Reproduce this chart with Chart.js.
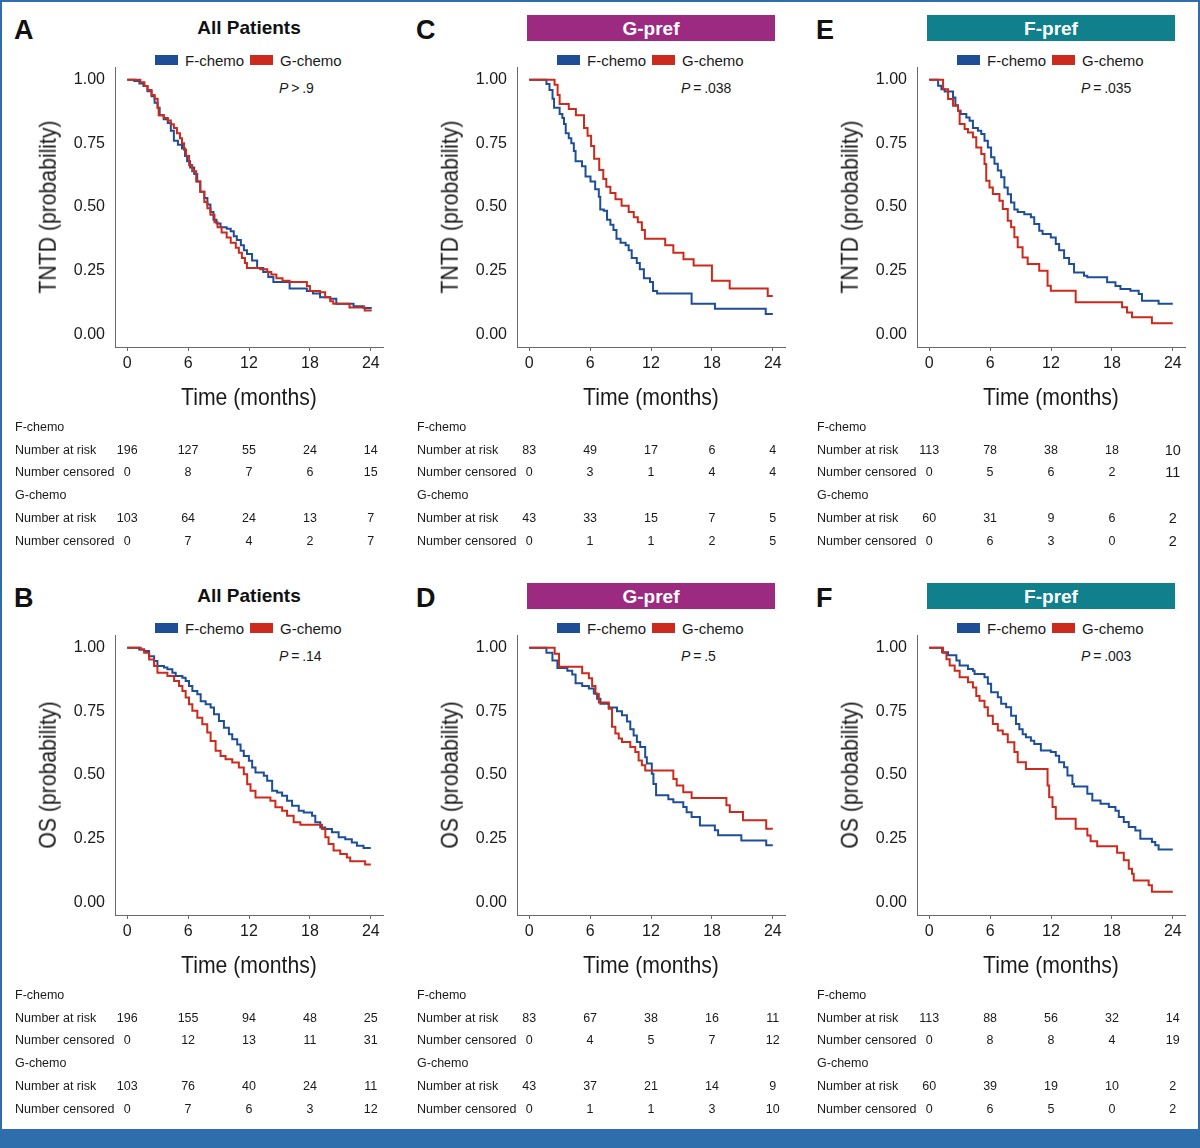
<!DOCTYPE html>
<html>
<head>
<meta charset="utf-8">
<script src="https://cdn.jsdelivr.net/npm/chart.js@4.4.1/dist/chart.umd.min.js"></script>
<style>
html,body{margin:0;padding:0;background:#fff;}
#page{position:relative;width:1200px;height:1148px;overflow:hidden;background:#fff;font-family:"Liberation Sans",Arial,Helvetica,sans-serif;color:#1a1a1a;}
.frame{position:absolute;background:#2f6eac;}
.panel{position:absolute;width:400px;height:568px;}
.panel canvas{position:absolute;left:0;top:60px;}
.t{position:absolute;white-space:nowrap;line-height:1;}
.band{position:absolute;}
.key{position:absolute;width:23px;height:10px;}
</style>
</head>
<body>
<div id="page">
  <div class="frame" style="left:0;top:0;width:1200px;height:2px;"></div>
  <div class="frame" style="left:0;top:0;width:2px;height:1148px;"></div>
  <div class="frame" style="left:1198px;top:0;width:2px;height:1148px;"></div>
  <div class="frame" style="left:0;top:1129px;width:1200px;height:19px;"></div>
</div>
<script>
// ---------- axis ticks & labels ----------
const X_TICKS = [0, 6, 12, 18, 24];
const X_TICK_LABELS = ['0', '6', '12', '18', '24'];
const Y_TICKS = [0, 0.25, 0.5, 0.75, 1];
const Y_TICK_LABELS = ['0.00', '0.25', '0.50', '0.75', '1.00'];
const X_TITLE = 'Time (months)';
const Y_TITLES = ['TNTD (probability)', 'OS (probability)'];
const SERIES_NAMES = ['F-chemo', 'G-chemo'];
const TABLE_ROW_LABELS = ['Number at risk', 'Number censored'];
const HEADERS = ['All Patients', 'G-pref', 'F-pref'];
const P_TEXT = { A: '> .9', B: '= .14', C: '= .038', D: '= .5', E: '= .035', F: '= .003' };

// ---------- Kaplan-Meier curves [months, probability] ----------
// A: TNTD, all patients
const A_F = [[0,1],[0.7,0.995],[1.2,0.985],[1.6,0.975],[2.0,0.955],[2.4,0.935],[2.7,0.91],[3.0,0.89],[3.2,0.86],[3.6,0.845],[4.0,0.83],[4.3,0.80],[4.6,0.76],[5.0,0.745],[5.4,0.73],[5.7,0.70],[5.9,0.68],[6.2,0.655],[6.6,0.63],[6.9,0.60],[7.2,0.56],[7.6,0.535],[7.9,0.51],[8.2,0.48],[8.5,0.45],[8.8,0.435],[9.2,0.42],[9.8,0.415],[10.2,0.405],[10.5,0.385],[10.8,0.37],[11.2,0.35],[11.5,0.33],[11.8,0.315],[12.3,0.29],[12.8,0.26],[13.4,0.245],[13.9,0.225],[14.4,0.205],[16.0,0.18],[17.7,0.17],[18.3,0.16],[19.0,0.145],[20.0,0.14],[20.6,0.12],[22.3,0.11],[23.3,0.103],[24,0.10]];
const A_G = [[0,1],[1.3,0.99],[1.7,0.975],[2.0,0.96],[2.4,0.94],[2.7,0.925],[3.0,0.89],[3.1,0.86],[3.6,0.85],[4.0,0.84],[4.3,0.825],[4.6,0.81],[4.9,0.79],[5.2,0.77],[5.4,0.75],[5.6,0.725],[5.8,0.70],[6.1,0.665],[6.4,0.64],[6.8,0.60],[7.2,0.56],[7.6,0.52],[7.9,0.495],[8.2,0.47],[8.6,0.44],[8.9,0.42],[9.3,0.40],[9.8,0.38],[10.2,0.36],[10.7,0.34],[11.0,0.32],[11.3,0.30],[11.6,0.28],[11.8,0.26],[13.1,0.255],[13.8,0.245],[14.2,0.235],[14.7,0.22],[15.3,0.21],[16.0,0.205],[17.7,0.19],[18.0,0.17],[19.0,0.165],[19.5,0.145],[20.0,0.13],[20.3,0.12],[21.9,0.105],[23.4,0.093],[24,0.09]];
// B: OS, all patients
const B_F = [[0,1],[1.18,0.993],[1.67,0.987],[2.16,0.967],[2.65,0.948],[2.98,0.928],[3.63,0.922],[3.96,0.915],[4.45,0.902],[4.78,0.889],[5.44,0.882],[5.76,0.869],[6.09,0.85],[6.42,0.83],[6.91,0.817],[7.24,0.79],[7.73,0.778],[8.22,0.765],[8.55,0.739],[9.04,0.712],[9.53,0.686],[10.02,0.66],[10.35,0.64],[10.84,0.62],[11.17,0.595],[11.49,0.575],[11.99,0.556],[12.31,0.529],[12.64,0.51],[13.46,0.497],[13.79,0.477],[14.28,0.438],[14.77,0.431],[15.26,0.418],[15.75,0.399],[16.24,0.379],[16.9,0.36],[17.39,0.353],[18.21,0.34],[18.53,0.314],[19.02,0.294],[19.52,0.288],[20.17,0.275],[20.83,0.255],[21.48,0.248],[22.13,0.235],[22.63,0.222],[23.28,0.213],[24,0.213]];
const B_G = [[0,1],[1.34,0.993],[1.67,0.98],[2.16,0.954],[2.65,0.928],[2.98,0.902],[3.96,0.889],[4.62,0.869],[5.11,0.85],[5.44,0.83],[5.76,0.804],[6.09,0.778],[6.42,0.752],[6.91,0.725],[7.4,0.699],[7.89,0.667],[8.22,0.634],[8.71,0.595],[9.2,0.575],[9.69,0.562],[10.35,0.549],[11.0,0.529],[11.49,0.503],[11.82,0.464],[12.15,0.438],[12.64,0.412],[14.11,0.399],[14.6,0.373],[15.26,0.36],[15.75,0.34],[16.4,0.314],[17.06,0.305],[19.19,0.288],[19.52,0.255],[19.84,0.229],[20.33,0.203],[20.99,0.19],[21.64,0.176],[21.97,0.161],[23.44,0.148],[24,0.148]];
// C: TNTD, G-pref
const C_F = [[0,1],[1.7,0.983],[2.0,0.96],[2.3,0.925],[2.45,0.89],[3.0,0.865],[3.27,0.85],[3.43,0.826],[3.6,0.79],[3.9,0.77],[4.15,0.75],[4.4,0.72],[4.57,0.68],[5.2,0.66],[5.55,0.62],[6.04,0.60],[6.5,0.57],[6.86,0.54],[7.0,0.49],[7.35,0.485],[7.67,0.45],[8.0,0.43],[8.3,0.41],[8.6,0.375],[9.0,0.36],[9.5,0.35],[9.8,0.33],[10.1,0.30],[10.6,0.28],[10.9,0.255],[11.3,0.22],[11.9,0.205],[12.2,0.17],[12.6,0.16],[16.0,0.12],[18.3,0.10],[23.3,0.08],[24,0.08]];
const C_G = [[0,1],[2.5,0.98],[2.8,0.94],[3.0,0.905],[3.9,0.885],[4.6,0.86],[5.4,0.81],[5.75,0.78],[6.1,0.74],[6.4,0.69],[6.9,0.645],[7.3,0.61],[7.6,0.58],[8.0,0.555],[8.5,0.53],[9.1,0.505],[9.8,0.48],[10.3,0.46],[10.7,0.44],[11.1,0.41],[11.4,0.375],[13.4,0.35],[14.2,0.32],[15.2,0.295],[16.2,0.27],[18.0,0.21],[19.75,0.18],[23.5,0.15],[24,0.15]];
// D: OS, G-pref
const D_F = [[0,1],[1.7,0.98],[2.29,0.95],[2.78,0.92],[3.76,0.91],[4.24,0.895],[4.57,0.86],[5.22,0.85],[5.88,0.84],[6.37,0.82],[6.69,0.80],[7.02,0.78],[7.84,0.765],[8.65,0.75],[9.14,0.735],[9.63,0.71],[9.96,0.68],[10.29,0.655],[10.61,0.63],[10.94,0.61],[11.43,0.57],[11.59,0.545],[12.08,0.505],[12.24,0.465],[12.5,0.42],[13.71,0.405],[14.2,0.393],[15.18,0.374],[15.51,0.354],[16.0,0.335],[16.82,0.302],[18.29,0.283],[18.61,0.263],[20.9,0.243],[23.35,0.224],[24,0.224]];
const D_G = [[0,1],[2.51,0.976],[2.94,0.925],[5.22,0.90],[5.88,0.88],[6.2,0.85],[6.53,0.818],[6.86,0.785],[7.84,0.76],[8.16,0.69],[8.49,0.663],[8.82,0.643],[9.14,0.63],[9.96,0.61],[10.45,0.59],[10.78,0.557],[11.1,0.538],[11.43,0.518],[14.2,0.484],[14.53,0.459],[15.18,0.432],[16.0,0.41],[19.43,0.381],[19.76,0.355],[21.06,0.322],[23.35,0.289],[24,0.289]];
// E: TNTD, F-pref
const E_F = [[0,1],[0.88,0.976],[1.2,0.963],[1.53,0.954],[2.35,0.93],[2.58,0.90],[2.84,0.878],[3.1,0.865],[3.66,0.852],[3.98,0.839],[4.31,0.81],[4.8,0.80],[5.13,0.787],[5.45,0.76],[5.78,0.734],[6.1,0.695],[6.43,0.67],[6.76,0.643],[7.09,0.617],[7.41,0.577],[7.74,0.55],[8.06,0.518],[8.39,0.49],[8.72,0.48],[9.37,0.472],[10.02,0.46],[10.35,0.433],[10.84,0.407],[11.17,0.394],[11.98,0.38],[12.47,0.355],[12.8,0.33],[13.29,0.30],[13.78,0.276],[14.27,0.243],[15.25,0.23],[15.58,0.224],[17.53,0.204],[18.35,0.19],[18.84,0.178],[19.82,0.171],[20.64,0.158],[20.96,0.132],[22.6,0.12],[24,0.12]];
const E_G = [[0,1],[1.37,0.963],[1.86,0.924],[2.35,0.898],[2.84,0.878],[3.0,0.826],[3.49,0.806],[3.82,0.793],[4.31,0.774],[4.64,0.734],[5.13,0.708],[5.45,0.669],[5.62,0.603],[5.94,0.577],[6.27,0.551],[6.92,0.525],[7.25,0.492],[7.74,0.446],[8.07,0.42],[8.39,0.381],[8.72,0.342],[9.2,0.302],[9.7,0.276],[10.84,0.25],[11.66,0.191],[11.98,0.171],[14.43,0.126],[19.0,0.106],[19.49,0.086],[19.98,0.067],[21.94,0.043],[24,0.043]];
// F: OS, F-pref
const F_F = [[0,1],[1.27,0.982],[1.86,0.97],[2.68,0.95],[3.0,0.93],[3.82,0.916],[4.31,0.91],[4.47,0.897],[5.45,0.884],[5.78,0.858],[6.1,0.825],[6.76,0.805],[7.09,0.78],[7.58,0.766],[8.07,0.733],[8.55,0.70],[8.88,0.68],[9.21,0.66],[9.53,0.648],[10.02,0.635],[10.35,0.622],[11.0,0.596],[11.98,0.59],[12.47,0.576],[12.8,0.55],[13.29,0.53],[13.62,0.498],[14.11,0.465],[14.27,0.455],[15.58,0.426],[16.07,0.40],[16.88,0.387],[17.7,0.374],[18.35,0.36],[18.68,0.335],[19.17,0.315],[19.66,0.296],[20.31,0.282],[20.8,0.25],[21.94,0.237],[22.27,0.224],[22.6,0.207],[24,0.207]];
const F_G = [[0,1],[1.37,0.98],[1.7,0.955],[2.02,0.93],[2.51,0.91],[3.0,0.884],[3.82,0.864],[4.31,0.844],[4.64,0.81],[4.96,0.792],[5.45,0.766],[5.78,0.733],[6.27,0.70],[6.76,0.675],[7.25,0.66],[7.74,0.629],[8.39,0.59],[8.72,0.55],[9.53,0.524],[11.66,0.459],[11.82,0.413],[12.15,0.374],[12.47,0.328],[14.43,0.289],[15.58,0.262],[15.9,0.24],[16.55,0.22],[18.51,0.195],[19.17,0.165],[19.66,0.132],[19.98,0.112],[20.15,0.086],[21.62,0.067],[21.94,0.041],[24,0.041]];

// ---------- risk tables (at 0, 6, 12, 18, 24 months) ----------
const A_F_RISK = [196, 127, 55, 24, 14], A_F_CENS = [0, 8, 7, 6, 15];
const A_G_RISK = [103, 64, 24, 13, 7],   A_G_CENS = [0, 7, 4, 2, 7];
const B_F_RISK = [196, 155, 94, 48, 25], B_F_CENS = [0, 12, 13, 11, 31];
const B_G_RISK = [103, 76, 40, 24, 11],  B_G_CENS = [0, 7, 6, 3, 12];
const C_F_RISK = [83, 49, 17, 6, 4],     C_F_CENS = [0, 3, 1, 4, 4];
const C_G_RISK = [43, 33, 15, 7, 5],     C_G_CENS = [0, 1, 1, 2, 5];
const D_F_RISK = [83, 67, 38, 16, 11],   D_F_CENS = [0, 4, 5, 7, 12];
const D_G_RISK = [43, 37, 21, 14, 9],    D_G_CENS = [0, 1, 1, 3, 10];
const E_F_RISK = [113, 78, 38, 18, 10],  E_F_CENS = [0, 5, 6, 2, 11];
const E_G_RISK = [60, 31, 9, 6, 2],      E_G_CENS = [0, 6, 3, 0, 2];
const F_F_RISK = [113, 88, 56, 32, 14],  F_F_CENS = [0, 8, 8, 4, 19];
const F_G_RISK = [60, 39, 19, 10, 2],    F_G_CENS = [0, 6, 5, 0, 2];

// ---------- styling ----------
const BLUE = '#1f4e99', RED = '#cc2a1c', AXIS = '#6a6a6a', TXT = '#1a1a1a';
const PURPLE = '#9d2a81', TEAL = '#10808d';
const SANS = '"Liberation Sans", Arial, Helvetica, sans-serif';

const PANELS = [
  { id: 'A', col: 0, row: 0, f: A_F, g: A_G, fr: A_F_RISK, fc: A_F_CENS, gr: A_G_RISK, gc: A_G_CENS, head: 0 },
  { id: 'B', col: 0, row: 1, f: B_F, g: B_G, fr: B_F_RISK, fc: B_F_CENS, gr: B_G_RISK, gc: B_G_CENS, head: 0 },
  { id: 'C', col: 1, row: 0, f: C_F, g: C_G, fr: C_F_RISK, fc: C_F_CENS, gr: C_G_RISK, gc: C_G_CENS, head: 1, band: PURPLE },
  { id: 'D', col: 1, row: 1, f: D_F, g: D_G, fr: D_F_RISK, fc: D_F_CENS, gr: D_G_RISK, gc: D_G_CENS, head: 1, band: PURPLE },
  { id: 'E', col: 2, row: 0, f: E_F, g: E_G, fr: E_F_RISK, fc: E_F_CENS, gr: E_G_RISK, gc: E_G_CENS, head: 2, band: TEAL, lastBig: true },
  { id: 'F', col: 2, row: 1, f: F_F, g: F_G, fr: F_F_RISK, fc: F_F_CENS, gr: F_G_RISK, gc: F_G_CENS, head: 2, band: TEAL }
];
const COL_LEFT = [0, 402, 802];
const ROW_TOP = [0, 568];
const CANVAS_TOP = 60;

function txt(parent, s, x, y, o) {
  o = o || {};
  const d = document.createElement('div');
  d.className = 't';
  if (o.html) d.innerHTML = s; else d.textContent = s;
  d.style.left = x + 'px';
  d.style.top = y + 'px';
  d.style.fontSize = (o.size || 13) + 'px';
  d.style.color = o.color || TXT;
  if (o.bold) d.style.fontWeight = 'bold';
  const tx = o.align === 'center' ? '-50%' : (o.align === 'right' ? '-100%' : '0');
  d.style.transform = 'translate(' + tx + ',-50%)' + (o.extra || '');
  parent.appendChild(d);
  return d;
}

const page = document.getElementById('page');
PANELS.forEach(p => {
  const el = document.createElement('div');
  el.className = 'panel';
  el.style.left = COL_LEFT[p.col] + 'px';
  el.style.top = ROW_TOP[p.row] + 'px';
  page.appendChild(el);

  // letter
  txt(el, p.id, 14, 30, { size: 27, bold: true, color: '#111' });
  // header
  if (p.band) {
    const b = document.createElement('div');
    b.className = 'band';
    b.style.cssText = 'left:125px;top:15px;width:248px;height:26px;background:' + p.band + ';';
    el.appendChild(b);
    txt(el, HEADERS[p.head], 249, 28, { size: 19, bold: true, color: '#fff', align: 'center' });
  } else {
    txt(el, HEADERS[p.head], 249, 27, { size: 19, bold: true, color: '#111', align: 'center' });
  }
  // legend
  const k1 = document.createElement('div'); k1.className = 'key';
  k1.style.cssText += 'left:155px;top:55px;background:' + BLUE + ';'; el.appendChild(k1);
  txt(el, SERIES_NAMES[0], 185, 60, { size: 15 });
  const k2 = document.createElement('div'); k2.className = 'key';
  k2.style.cssText += 'left:250px;top:55px;background:' + RED + ';'; el.appendChild(k2);
  txt(el, SERIES_NAMES[1], 280, 60, { size: 15 });
  // P value
  txt(el, '<i>P</i>\u2009' + P_TEXT[p.id].replace(' ', '\u2009'), 279, 88, { size: 14, html: true });

  // chart
  const cv = document.createElement('canvas');
  cv.width = 398; cv.height = 360;
  cv.style.width = '398px'; cv.style.height = '360px';
  el.appendChild(cv);
  const pts = arr => arr.map(d => ({ x: d[0], y: d[1] }));
  const chart = new Chart(cv, {
    type: 'line',
    data: {
      datasets: [
        { label: SERIES_NAMES[0], data: pts(p.f), borderColor: BLUE, backgroundColor: BLUE, borderWidth: 2, stepped: 'before', pointRadius: 0, fill: false, order: 1 },
        { label: SERIES_NAMES[1], data: pts(p.g), borderColor: RED, backgroundColor: RED, borderWidth: 2, stepped: 'before', pointRadius: 0, fill: false, order: 0 }
      ]
    },
    options: {
      responsive: false,
      animation: false,
      layout: { padding: { left: 0, right: 15, top: 7, bottom: 0 } },
      plugins: { legend: { display: false }, tooltip: { enabled: false }, title: { display: false } },
      scales: {
        x: {
          type: 'linear', min: -1.2, max: 25.2,
          afterBuildTicks: s => { s.ticks = X_TICKS.map(v => ({ value: v })); },
          afterFit: s => { s.height = 73; s.paddingLeft = 0; s.paddingRight = 0; },
          ticks: { callback: (v, i) => X_TICK_LABELS[i], color: TXT, font: { family: SANS, size: 16 }, padding: 3, maxRotation: 0, autoSkip: false },
          grid: { display: true, drawOnChartArea: false, drawTicks: true, tickLength: 4, color: AXIS, lineWidth: 1 },
          border: { display: true, color: AXIS, width: 1 },
          title: { display: false }
        },
        y: {
          type: 'linear', min: -0.05, max: 1.05,
          afterBuildTicks: s => { s.ticks = Y_TICKS.map(v => ({ value: v })); },
          afterFit: s => { s.width = 115; s.paddingTop = 0; s.paddingBottom = 0; },
          ticks: { callback: (v, i) => Y_TICK_LABELS[i], color: TXT, font: { family: SANS, size: 16 }, padding: 10, autoSkip: false },
          grid: { display: false, drawTicks: false },
          border: { display: true, color: AXIS, width: 1 },
          title: { display: false }
        }
      }
    }
  });

  // axis titles (condensed), centred on the chart area
  const ca = chart.chartArea;
  txt(el, X_TITLE, (ca.left + ca.right) / 2, 397, { size: 24.5, align: 'center', extra: ' scaleX(0.865)' });
  txt(el, Y_TITLES[p.row], 47.5, CANVAS_TOP + (ca.top + ca.bottom) / 2, { size: 24.5, align: 'center', extra: ' rotate(-90deg) scaleX(0.865)' });

  // risk table, columns aligned through the x scale
  const xs = X_TICKS.map(t => chart.scales.x.getPixelForValue(t));
  const rowsY = [427, 450, 472, 495, 518, 541];
  txt(el, SERIES_NAMES[0], 15, rowsY[0], { size: 12.5 });
  txt(el, TABLE_ROW_LABELS[0], 15, rowsY[1], { size: 12.5 });
  txt(el, TABLE_ROW_LABELS[1], 15, rowsY[2], { size: 12.5 });
  txt(el, SERIES_NAMES[1], 15, rowsY[3], { size: 12.5 });
  txt(el, TABLE_ROW_LABELS[0], 15, rowsY[4], { size: 12.5 });
  txt(el, TABLE_ROW_LABELS[1], 15, rowsY[5], { size: 12.5 });
  [[p.fr, 1], [p.fc, 2], [p.gr, 4], [p.gc, 5]].forEach(([vals, r]) => {
    vals.forEach((v, i) => {
      const big = p.lastBig && i === vals.length - 1;
      txt(el, String(v), xs[i], rowsY[r], { size: big ? 14.5 : 12.5, align: 'center' });
    });
  });
});
</script>
</body>
</html>
